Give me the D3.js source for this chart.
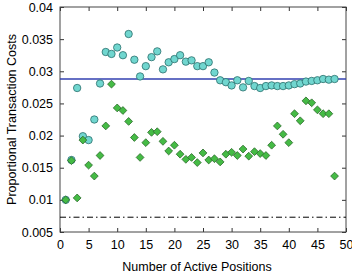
<!DOCTYPE html>
<html>
<head>
<meta charset="utf-8">
<script src="https://cdn.jsdelivr.net/npm/d3@7"></script>
<style>
body { margin: 0; background: #fff; }
text { font-family: "Liberation Sans", Arial, sans-serif; fill: #000; }
</style>
</head>
<body>
<svg></svg>
<script>
let width = 352
let height = 278
let margin = {top: 7, right: 6, bottom: 46, left: 60}

// number of active positions
let positions = [1, 2, 3, 4, 5, 6, 7, 8, 9, 10, 11, 12, 13, 14, 15, 16,
    17, 18, 19, 20, 21, 22, 23, 24, 25, 26, 27, 28, 29, 30, 31, 32,
    33, 34, 35, 36, 37, 38, 39, 40, 41, 42, 43, 44, 45, 46, 47, 48]
// circle series
let circleCosts = [0.0100, 0.0162, 0.0274, 0.0199, 0.0193, 0.0225, 0.0281, 0.0330,
    0.0327, 0.0337, 0.0325, 0.0358, 0.0318, 0.0292, 0.0308, 0.0322,
    0.0331, 0.0303, 0.0314, 0.0319, 0.0325, 0.0315, 0.0317, 0.0308,
    0.0308, 0.0314, 0.0298, 0.0286, 0.0283, 0.0278, 0.0286, 0.0275,
    0.0285, 0.0277, 0.0274, 0.0277, 0.0278, 0.0277, 0.0277, 0.0278,
    0.0280, 0.0281, 0.0284, 0.0285, 0.0286, 0.0288, 0.0287, 0.0288]
// diamond series
let diamondCosts = [0.0100, 0.0161, 0.0103, 0.0193, 0.0154, 0.0137, 0.0169, 0.0215,
    0.0280, 0.0243, 0.0239, 0.0222, 0.0197, 0.0166, 0.0189, 0.0205,
    0.0206, 0.0191, 0.0176, 0.0185, 0.0171, 0.0163, 0.0166, 0.0158,
    0.0173, 0.0162, 0.0164, 0.0159, 0.0171, 0.0174, 0.0169, 0.0179,
    0.0168, 0.0175, 0.0172, 0.0169, 0.0185, 0.0215, 0.0202, 0.0189,
    0.0234, 0.0223, 0.0254, 0.0251, 0.0240, 0.0234, 0.0234, 0.0137]
let solidLevel = 0.0288
let dashDotLevel = 0.0073

let xTicks = [0, 5, 10, 15, 20, 25, 30, 35, 40, 45, 50]
let yTicks = [0.005, 0.01, 0.015, 0.02, 0.025, 0.03, 0.035, 0.04]

let svg = d3.select('svg')
    .attr('width', width)
    .attr('height', height)

let x = d3.scaleLinear().domain([0, 50]).range([margin.left, width - margin.right])
let y = d3.scaleLinear().domain([0.005, 0.04]).range([height - margin.bottom, margin.top])

let fmt = d => String(+d.toFixed(3))

let styleAxis = g => {
    g.select('.domain').remove()
    g.selectAll('line').attr('stroke', '#333')
    g.selectAll('text').style('font-size', '12.5px')
}

svg.append('g')
    .attr('transform', `translate(0,${height - margin.bottom})`)
    .call(d3.axisBottom(x).tickValues(xTicks).tickSize(-4).tickPadding(8).tickFormat(d3.format('d')))
    .call(styleAxis)
svg.append('g')
    .attr('transform', `translate(0,${margin.top})`)
    .call(d3.axisTop(x).tickValues(xTicks).tickSize(-4).tickFormat(''))
    .call(styleAxis)
svg.append('g')
    .attr('transform', `translate(${margin.left},0)`)
    .call(d3.axisLeft(y).tickValues(yTicks).tickSize(-4).tickPadding(7).tickFormat(fmt))
    .call(styleAxis)
svg.append('g')
    .attr('transform', `translate(${width - margin.right},0)`)
    .call(d3.axisRight(y).tickValues(yTicks).tickSize(-4).tickFormat(''))
    .call(styleAxis)

svg.append('rect')
    .attr('x', margin.left)
    .attr('y', margin.top)
    .attr('width', width - margin.left - margin.right)
    .attr('height', height - margin.top - margin.bottom)
    .attr('fill', 'none')
    .attr('stroke', '#444')
    .attr('stroke-width', 1)

svg.append('line')
    .attr('x1', x(0)).attr('x2', x(50))
    .attr('y1', y(solidLevel)).attr('y2', y(solidLevel))
    .attr('stroke', '#3340b0')
    .attr('stroke-width', 1.3)

svg.append('line')
    .attr('x1', x(0)).attr('x2', x(50))
    .attr('y1', y(dashDotLevel)).attr('y2', y(dashDotLevel))
    .attr('stroke', '#000')
    .attr('stroke-width', 1)
    .attr('stroke-dasharray', '6,3,1.5,3')

svg.append('g').selectAll('circle')
    .data(positions).enter()
    .append('circle')
    .attr('cx', (d, i) => x(d))
    .attr('cy', (d, i) => y(circleCosts[i]))
    .attr('r', 3.7)
    .attr('fill', '#70d6cf')
    .attr('stroke', '#2b6f6c')
    .attr('stroke-width', 0.8)

let s = 3.9
svg.append('g').selectAll('path')
    .data(positions).enter()
    .append('path')
    .attr('d', `M0,${-s}L${s},0L0,${s}L${-s},0Z`)
    .attr('transform', (d, i) => `translate(${x(d)},${y(diamondCosts[i])})`)
    .attr('fill', '#45bb45')
    .attr('stroke', '#2a6a2a')
    .attr('stroke-width', 0.8)

svg.append('text')
    .attr('x', 197)
    .attr('y', 271)
    .attr('text-anchor', 'middle')
    .style('font-size', '12.5px')
    .text('Number of Active Positions')

svg.append('text')
    .attr('transform', `translate(16,${(margin.top + height - margin.bottom) / 2}) rotate(-90)`)
    .attr('text-anchor', 'middle')
    .style('font-size', '12.5px')
    .text('Proportional Transaction Costs')
</script>
</body>
</html>
